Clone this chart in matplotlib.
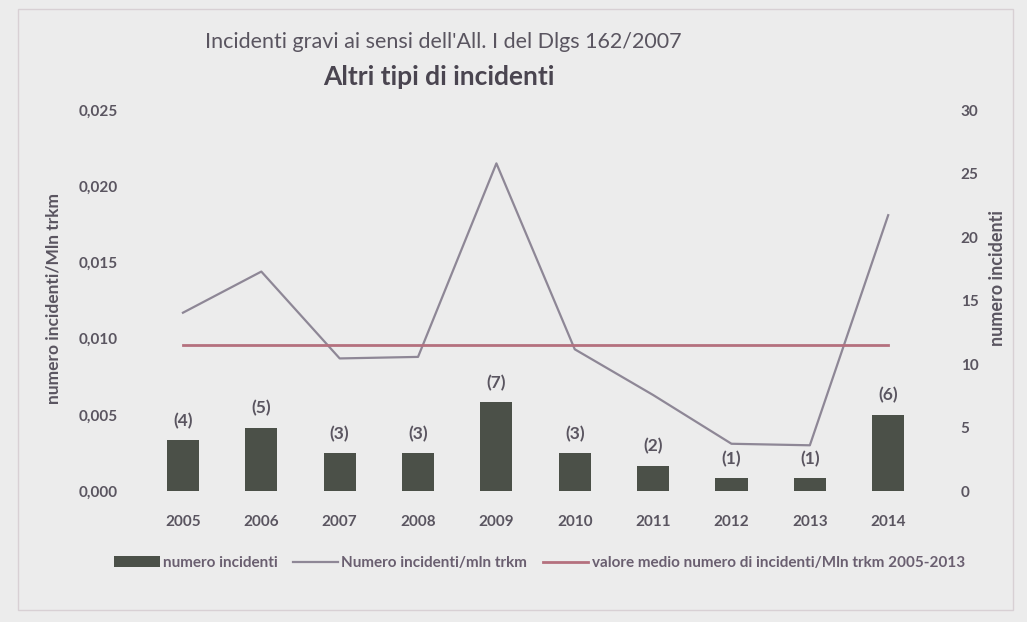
import numpy as np
from matplotlib import pyplot as plt
from matplotlib.patches import Rectangle

# Data
years = ['2005', '2006', '2007', '2008', '2009', '2010', '2011', '2012', '2013', '2014']
num_incidenti = [4, 5, 3, 3, 7, 3, 2, 1, 1, 6]
incidenti_mln_trkm = [0.0117, 0.0144, 0.0087, 0.0088, 0.0215, 0.0093, 0.0063, 0.0031, 0.0030, 0.0181]
valore_medio = [0.0096] * 10

left_ticks = [0.000, 0.005, 0.010, 0.015, 0.020, 0.025]
right_ticks = [0, 5, 10, 15, 20, 25, 30]

plt.rcParams['font.family'] = ['Lato', 'DejaVu Sans']
txt_col = '#5a5560'
bg_col = '#ececec'

fig = plt.figure(figsize=(10.27, 6.22), dpi=100)
fig.patch.set_facecolor(bg_col)

# Faint chart frame
fig.patches.append(Rectangle((0.018, 0.02), 0.968, 0.965, transform=fig.transFigure,
                             fill=False, ec='#d8d0d4', lw=1.0))

ax = fig.add_axes([0.140, 0.2106, 0.763, 0.6125])
ax2 = ax.twinx()
ax.set_facecolor('none')
ax2.set_facecolor('none')

x = np.arange(len(years))

# Bars on the right axis (numero incidenti)
bars = ax2.bar(x, num_incidenti, width=0.41, color='#4b5048', zorder=1,
               label='numero incidenti')
for xi, v in zip(x, num_incidenti):
    ax2.annotate(f'({v})', (xi, v), xytext=(0, 8), textcoords='offset points',
                 ha='center', va='bottom', fontsize=12.5, fontweight='bold', color=txt_col)

# Lines on the left axis
ax.set_zorder(ax2.get_zorder() + 1)
l1, = ax.plot(x, incidenti_mln_trkm, color='#8e8796', lw=1.6,
              label='Numero incidenti/mln trkm')
l2, = ax.plot(x, valore_medio, color='#b4707e', lw=2.0,
              label='valore medio numero di incidenti/Mln trkm 2005-2013')

ax.set_xlim(-0.5, len(years) - 0.5)
ax.set_ylim(0, 0.025)
ax2.set_ylim(0, 30)

ax.set_yticks(left_ticks)
ax.set_yticklabels([f'{t:.3f}'.replace('.', ',') for t in left_ticks])
ax2.set_yticks(right_ticks)
ax.set_xticks(x)
ax.set_xticklabels(years)

for a in (ax, ax2):
    for s in a.spines.values():
        s.set_visible(False)
    a.tick_params(length=0, colors=txt_col, labelsize=11)
    for lab in a.get_xticklabels() + a.get_yticklabels():
        lab.set_fontweight('bold')

ax.tick_params(axis='y', pad=19)
ax.tick_params(axis='x', pad=17)
ax2.tick_params(axis='y', pad=24)

ax.set_ylabel('numero incidenti/Mln trkm', fontsize=12.5, fontweight='bold', color=txt_col)
ax.yaxis.set_label_coords(-0.105, 0.505)
ax2.set_ylabel('numero incidenti', fontsize=13, fontweight='bold', color=txt_col)
ax2.yaxis.set_label_coords(1.078, 0.56)

# Titles
fig.text(0.432, 0.932, "Incidenti gravi ai sensi dell'All. I del Dlgs 162/2007",
         ha='center', va='center', fontsize=15.5, color=txt_col)
fig.text(0.427, 0.877, 'Altri tipi di incidenti', ha='center', va='center',
         fontsize=19, fontweight='bold', color='#4a4550')

# Legend below plot
leg = fig.legend(handles=[bars, l1, l2], loc='center', bbox_to_anchor=(0.525, 0.095),
                 ncol=3, frameon=False, fontsize=11, handlelength=3.0,
                 columnspacing=1.0, handletextpad=0.2)
for t in leg.get_texts():
    t.set_color('#6a5f70')
    t.set_fontweight('bold')

fig.savefig('out.png', dpi=100, facecolor=fig.get_facecolor())
